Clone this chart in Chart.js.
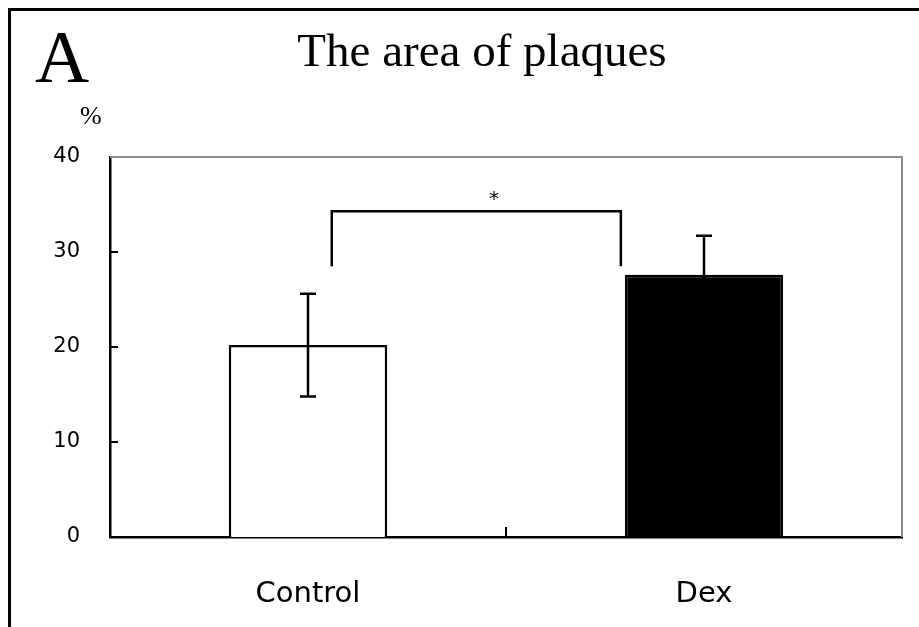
<!DOCTYPE html>
<html>
<head>
<meta charset="utf-8">
<script src="https://cdn.jsdelivr.net/npm/chart.js@4/dist/chart.umd.min.js"></script>
<style>
  body { margin: 0; background: #fff; }
  #wrap { width: 919px; height: 627px; position: relative; }
</style>
</head>
<body>
<div id="wrap"><canvas id="chart-1"></canvas></div>
<script>
const categories = ['Control', 'Dex'];
const means = [20.2, 27.6];
const errors = [5.4, 4.1];
const barColors = ['#ffffff', '#000000'];
const yTicks = [0, 10, 20, 30, 40];

// significance bracket, in data units (x = category index, y = %)
const bracketX = [0.06, 0.79];
const bracketY = [28.5, 34.3];
const starPos = [0.47, 35.8];

const framePlugin = {
    id: 'frame',
    afterDraw(chart) {
        const c = chart.ctx;
        const a = chart.chartArea;
        const xs = chart.scales.x, ys = chart.scales.y;
        c.save();

        // outer frame (top + left)
        c.strokeStyle = '#000';
        c.lineWidth = 3;
        c.beginPath();
        c.moveTo(9.5, 627);
        c.lineTo(9.5, 9.5);
        c.lineTo(919, 9.5);
        c.stroke();

        // top and right border of plot, gray
        c.strokeStyle = '#8c8c8c';
        c.lineWidth = 2;
        c.beginPath();
        c.moveTo(a.left, a.top);
        c.lineTo(a.right, a.top);
        c.lineTo(a.right, a.bottom);
        c.stroke();

        // inward tick marks
        c.strokeStyle = '#000';
        c.lineWidth = 2;
        c.beginPath();
        yTicks.slice(1, -1).forEach(v => {
            const y = ys.getPixelForValue(v);
            c.moveTo(a.left, y);
            c.lineTo(a.left + 8, y);
        });
        const mid = xs.getPixelForValue(0.5);
        c.moveTo(mid, a.bottom);
        c.lineTo(mid, a.bottom - 10);
        c.stroke();

        // error bars
        const meta = chart.getDatasetMeta(0);
        meta.data.forEach((bar, i) => {
            const yHi = ys.getPixelForValue(means[i] + errors[i]);
            const yLo = ys.getPixelForValue(means[i] - errors[i]);
            c.strokeStyle = '#000';
            c.lineWidth = 2.5;
            c.beginPath();
            c.moveTo(bar.x, yHi);
            c.lineTo(bar.x, yLo);
            c.moveTo(bar.x - 8, yHi);
            c.lineTo(bar.x + 8, yHi);
            c.moveTo(bar.x - 8, yLo);
            c.lineTo(bar.x + 8, yLo);
            c.stroke();
        });

        // bracket
        const bx0 = xs.getPixelForValue(bracketX[0]);
        const bx1 = xs.getPixelForValue(bracketX[1]);
        const by0 = ys.getPixelForValue(bracketY[0]);
        const by1 = ys.getPixelForValue(bracketY[1]);
        c.lineWidth = 2.5;
        c.beginPath();
        c.moveTo(bx0, by0);
        c.lineTo(bx0, by1);
        c.lineTo(bx1, by1);
        c.lineTo(bx1, by0);
        c.stroke();

        c.fillStyle = '#000';
        c.textAlign = 'center';
        c.textBaseline = 'middle';
        c.font = '20px "DejaVu Sans"';
        c.fillText('*', xs.getPixelForValue(starPos[0]), ys.getPixelForValue(starPos[1]) + 3);

        // title, panel letter, unit
        c.textBaseline = 'alphabetic';
        c.font = '47px "Liberation Serif"';
        c.fillText('The area of plaques', 482, 66);
        c.textAlign = 'left';
        c.font = '75px "Liberation Serif"';
        c.fillText('A', 35, 82);
        c.font = '26px "Liberation Serif"';
        c.fillText('%', 80, 124);
        c.restore();
    }
};

const ctx = document.getElementById('chart-1').getContext('2d');
const myChart = new Chart(ctx, {
    type: 'bar',
    data: {
        labels: categories,
        datasets: [{
            data: means,
            backgroundColor: barColors,
            borderColor: '#000',
            borderWidth: 2.5,
            borderSkipped: 'bottom',
            categoryPercentage: 1,
            barPercentage: 0.4
        }]
    },
    options: {
        responsive: true,
        maintainAspectRatio: false,
        animation: false,
        layout: { padding: { top: 157, right: 17, left: 0, bottom: 0 } },
        plugins: {
            legend: { display: false },
            tooltip: { enabled: false },
            title: { display: false }
        },
        scales: {
            x: {
                grid: { display: false, drawTicks: false },
                border: { color: '#000', width: 2.5 },
                ticks: {
                    color: '#000',
                    padding: 40,
                    font: { family: 'DejaVu Sans', size: 29 }
                },
                afterFit: s => { s.height = 90; }
            },
            y: {
                min: 0,
                max: 40,
                grid: { display: false, drawTicks: false },
                border: { color: '#000', width: 2.5 },
                ticks: {
                    stepSize: 10,
                    color: '#000',
                    padding: 30,
                    font: { family: 'DejaVu Sans', size: 21 }
                },
                afterFit: s => { s.width = 110; }
            }
        }
    },
    plugins: [framePlugin]
});
</script>
</body>
</html>
